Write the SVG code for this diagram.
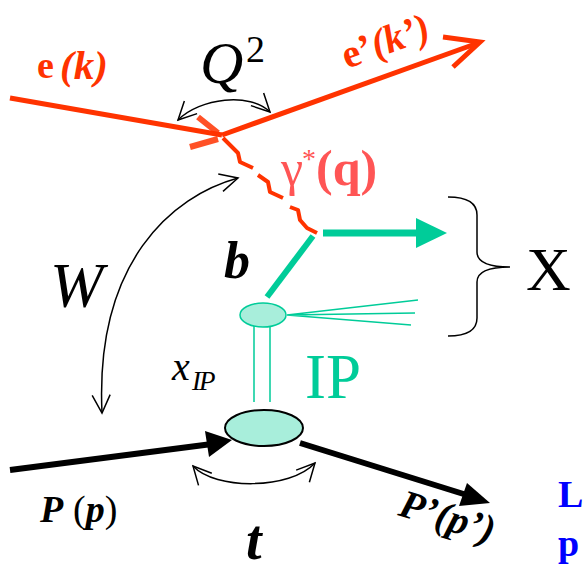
<svg xmlns="http://www.w3.org/2000/svg" width="585" height="572" viewBox="0 0 585 572">
<style>
text{font-family:"Liberation Serif","Times New Roman",serif}
.red{fill:#FF3300}
.thin{fill:none;stroke:#000;stroke-width:1.5}
.eline{fill:none;stroke:#FF3300;stroke-width:5}
.gr{stroke:#00CC99;fill:none}
.blob{fill:#A8EEDB}
.bl{fill:none;stroke:#000;stroke-width:6}
</style>
<defs>
<marker id="open" viewBox="0 0 22 22" markerWidth="22" markerHeight="22" markerUnits="userSpaceOnUse" refX="20" refY="11" orient="auto-start-reverse">
<path d="M2,2 L20,11 L2,20" fill="none" stroke="#000" stroke-width="1.5"/>
</marker>
</defs>
<rect width="585" height="572" fill="#fff"/>
<g id="connectors">
<g id="electron-in"><path class="eline" d="M10,98 L222,135"/></g>
<g id="electron-out"><path class="eline" d="M222,135 L478,43"/><path class="eline" d="M443,37 L480,42 L453,67"/></g>
<g id="vertex-mark"><path d="M198,117 L218,133 M190,147 L218,139" stroke="#FF3300" stroke-width="6" opacity="0.85" fill="none"/></g>
<g id="photon"><path d="M223,138 L238,153 L240,162 L253,168 M258,175 L268,182 L270,192 L283,198 M290,207 L298,210 L300,220 L307,228 L317,233" fill="none" stroke="#FF3300" stroke-width="4" stroke-linejoin="round"/></g>
<g id="quark-out"><path class="gr" d="M323,233 L418,233" stroke-width="7"/><polygon points="416,218 447,233 416,248" fill="#00CC99"/></g>
<g id="quark-b"><path class="gr" d="M313,236 L267,297" stroke-width="6"/></g>
<g id="fan"><path class="gr" d="M287,315 L418,300 M287,315 L415,313 M287,315 L411,325" stroke-width="1.5"/></g>
<g id="pomeron"><path class="gr" d="M254,323 L254,402 M270,323 L270,402" stroke-width="1.5"/></g>
<g id="proton-in"><path class="bl" d="M10,470 L212,444"/><polygon points="232,440 205,431 209,457" fill="#000"/></g>
<g id="proton-out"><path class="bl" d="M300,443 L470,496"/><polygon points="490,503 459,506 467,483" fill="#000"/></g>
<g id="q2-arc"><path class="thin" d="M178,120 C200,98 250,92 270,112" marker-start="url(#open)" marker-end="url(#open)"/></g>
<g id="w-arc"><path class="thin" d="M238,178 C172,196 95,262 102,413" marker-start="url(#open)" marker-end="url(#open)"/></g>
<g id="t-arc"><path class="thin" d="M193,466 C215,490 290,490 315,463" marker-start="url(#open)" marker-end="url(#open)"/></g>
<g id="brace"><path class="thin" d="M448,197 Q477,197 477,215 L477,252 Q477,267 510,267 Q477,267 477,282 L477,318 Q477,336 448,336"/></g>
</g>
<g id="node-upper-blob"><ellipse class="blob" cx="263" cy="315" rx="23" ry="12" stroke="#00CC99" stroke-width="1.5"/></g>
<g id="node-proton-vertex"><ellipse class="blob" cx="264" cy="428" rx="39" ry="18" stroke="#000" stroke-width="2"/></g>
<g id="labels">
<text x="37" y="78" font-size="38" font-weight="bold" class="red">e</text>
<text x="60" y="79" font-size="41" font-weight="bold" font-style="italic" class="red">(k)</text>
<text transform="rotate(-20 347 69)" x="347" y="69" font-size="40" font-weight="bold" class="red">e’<tspan font-style="italic">(k’)</tspan></text>
<text x="200" y="83" font-size="60" font-style="italic">Q</text>
<text x="246" y="62" font-size="38">2</text>
<text x="281" y="185" font-size="50" fill="#FF5555">γ</text>
<text x="302" y="168" font-size="28" fill="#FF5555">*</text>
<text x="316" y="185" font-size="50" font-weight="bold" fill="#FF5555">(q)</text>
<text x="224" y="278" font-size="52" font-weight="bold" font-style="italic">b</text>
<text x="50" y="307" font-size="64" font-style="italic">W</text>
<text x="526" y="290" font-size="62">X</text>
<text x="305" y="398" font-size="63" fill="#00CC99">IP</text>
<text x="172" y="380" font-size="40" font-style="italic">x</text>
<text x="192" y="390" font-size="27" font-style="italic" letter-spacing="-2">IP</text>
<text x="40" y="522" font-size="38" font-weight="bold" font-style="italic">P</text>
<text x="73" y="522" font-size="38">(<tspan font-weight="bold" font-style="italic">p</tspan>)</text>
<text x="246" y="559" font-size="56" font-weight="bold" font-style="italic">t</text>
<text transform="rotate(17 397 515)" x="397" y="515" font-size="40" font-weight="bold" font-style="italic">P’(p’)</text>
<text x="558" y="507" font-size="38" font-weight="bold" fill="#0000FF">L</text>
<text x="558" y="556" font-size="38" font-weight="bold" fill="#0000FF">p</text>
</g>
</svg>
